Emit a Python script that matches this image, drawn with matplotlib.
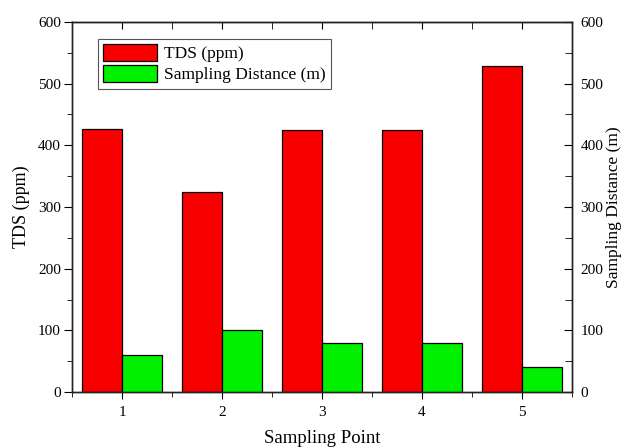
import matplotlib
matplotlib.use("Agg")
import matplotlib.pyplot as plt
import numpy as np
from matplotlib.ticker import MultipleLocator

points = [1, 2, 3, 4, 5]
tds_ppm = [427, 325, 425, 425, 528]
distance_m = [60, 100, 80, 80, 40]

plt.rcParams["font.family"] = ["Liberation Serif", "DejaVu Serif"]

fig = plt.figure(figsize=(6.25, 4.48), dpi=100)
ax = fig.add_axes([72 / 625, 1 - 392 / 448, 500 / 625, 370 / 448])
ax2 = ax.twinx()

x = np.array(points)
w = 0.4
b1 = ax.bar(x - w / 2, tds_ppm, width=w, color="#f80000", edgecolor="black",
            linewidth=0.9, label="TDS (ppm)")
b2 = ax2.bar(x + w / 2, distance_m, width=w, color="#00f000", edgecolor="black",
             linewidth=0.9, label="Sampling Distance (m)")

for a in (ax, ax2):
    a.set_ylim(0, 600)
    a.yaxis.set_major_locator(MultipleLocator(100))
    a.yaxis.set_minor_locator(MultipleLocator(50))
ax.set_xlim(0.5, 5.5)
ax.set_xticks(points)
ax.xaxis.set_minor_locator(MultipleLocator(0.5))

ax.tick_params(axis="y", which="both", direction="out", right=False, labelsize=11, pad=2)
ax.tick_params(axis="y", which="major", length=6)
ax.tick_params(axis="y", which="minor", length=3.5)
ax.tick_params(axis="x", which="both", direction="out", top=False, labelsize=11, pad=5)
ax.tick_params(axis="x", which="major", length=5)
ax.tick_params(axis="x", which="minor", length=3.5)
ax2.tick_params(axis="y", which="both", direction="in", labelsize=11, pad=6)
ax2.tick_params(axis="y", which="major", length=6)
ax2.tick_params(axis="y", which="minor", length=5)

# inward ticks along the top spine
top = ax.secondary_xaxis("top")
top.set_xticks(points)
top.xaxis.set_minor_locator(MultipleLocator(0.5))
top.tick_params(axis="x", which="both", direction="in", labeltop=False, length=5)

for a in (ax, ax2):
    for s in a.spines.values():
        s.set_linewidth(1.0)
        s.set_color("#222222")

ax.set_xlabel("Sampling Point", fontsize=13.5, labelpad=8)
ax.set_ylabel("TDS (ppm)", fontsize=13, labelpad=6)
ax2.set_ylabel("Sampling Distance (m)", fontsize=12.5, labelpad=2)

leg = ax.legend([b1, b2], ["TDS (ppm)", "Sampling Distance (m)"],
                loc="upper left", bbox_to_anchor=(0.052, 0.954),
                borderaxespad=0, fontsize=12.5, frameon=True, fancybox=False,
                framealpha=1, edgecolor="#555555", handlelength=3.1,
                handleheight=1.1, borderpad=0.3, labelspacing=0.15,
                handletextpad=0.4)
leg.get_frame().set_linewidth(0.8)

fig.savefig("out.png", dpi=100)
